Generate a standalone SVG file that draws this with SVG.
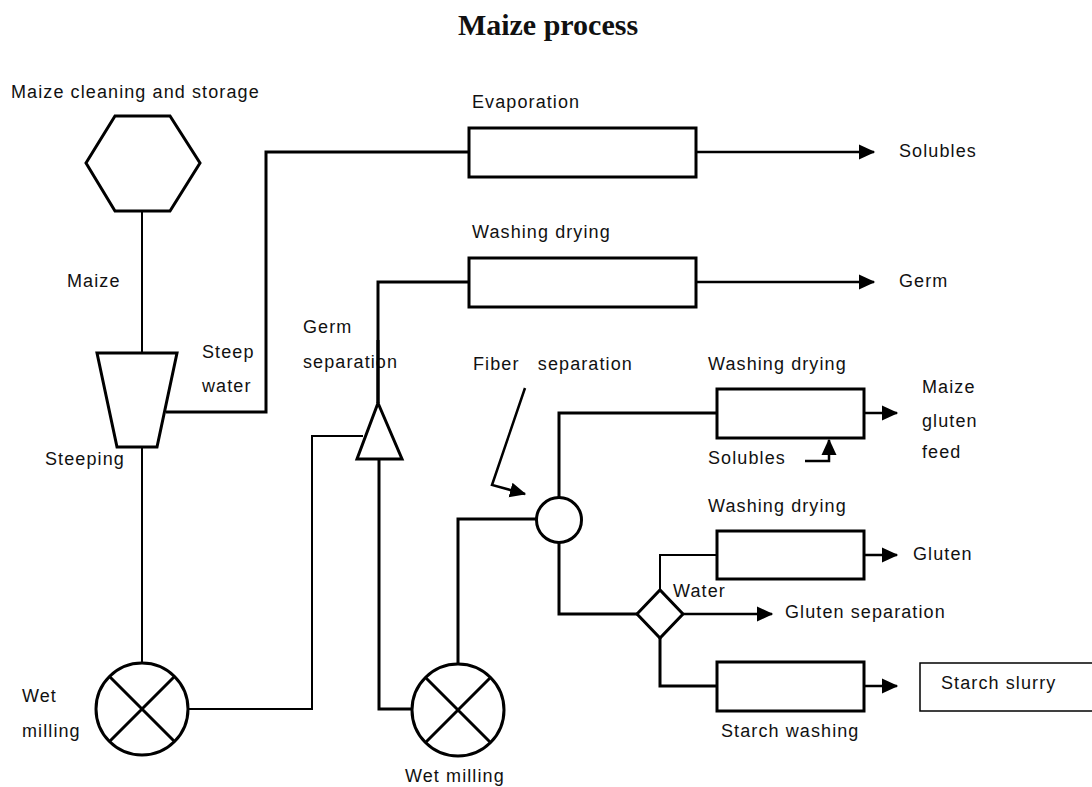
<svg xmlns="http://www.w3.org/2000/svg" width="1092" height="787" viewBox="0 0 1092 787">
<style>
text{font-family:"Liberation Sans",Arial,sans-serif;font-size:18px;letter-spacing:1.1px;fill:#111}
.title{font-family:"Liberation Serif","Times New Roman",serif;font-size:30px;font-weight:bold;letter-spacing:0}
.sh{fill:#fff;stroke:#000;stroke-width:3}
.thin{fill:none;stroke:#000;stroke-width:2}
.thick{fill:none;stroke:#000;stroke-width:3}
.arr{fill:none;stroke:#000;stroke-width:2.5;marker-end:url(#ah)}
</style>
<defs>
<marker id="ah" markerWidth="7" markerHeight="7" refX="6" refY="3.5" orient="auto" markerUnits="strokeWidth">
<path d="M0,0.5 L6.5,3.5 L0,6.5 Z" fill="#000"/>
</marker>
</defs>
<rect width="1092" height="787" fill="#fff"/>
<text class="title" x="548" y="35" text-anchor="middle">Maize process</text>

<g id="connectors">
<path class="thin" d="M142,211 V353"/>
<path class="thick" d="M166,412 H266 V152 H469"/>
<path class="arr" d="M696,152 H874"/>
<path class="thick" d="M378,403 V282 H469"/>
<path class="arr" d="M696,282 H874"/>
<path class="thin" d="M363,436 H312 V709 H188"/>
<path class="thin" d="M142,447 V663"/>
<path class="thick" d="M379,459 V709 H412"/>
<path class="thick" d="M458,664 V519 H537"/>
<path class="arr" d="M525,388 L492,485 L525,494"/>
<path class="thick" d="M559,498 V413 H717"/>
<path class="arr" d="M864,413 H897"/>
<path class="arr" d="M805,461 H829 V440"/>
<path class="thick" d="M559,543 V614 H637"/>
<path class="thin" d="M660,590 V555 H717"/>
<path class="arr" d="M864,555 H897"/>
<path class="arr" d="M683,614 H772"/>
<path class="thick" d="M660,638 V686 H717"/>
<path class="arr" d="M864,686 H897"/>
</g>

<g id="cleaning">
<polygon class="sh" points="115,116 170,116 200,163 170,211 115,211 86,163"/>
<text x="11" y="98">Maize cleaning and storage</text>
</g>
<g id="maize-label"><text x="67" y="287">Maize</text></g>
<g id="steeping">
<polygon class="sh" points="97,353 177,353 157,447 117,447"/>
<text x="45" y="465">Steeping</text>
</g>
<g id="steep-water-label">
<text x="202" y="358">Steep</text>
<text x="202" y="392">water</text>
</g>
<g id="evaporation">
<rect class="sh" x="469" y="128" width="227" height="49"/>
<text x="472" y="108">Evaporation</text>
</g>
<g id="solubles-out"><text x="899" y="157">Solubles</text></g>
<g id="germ-drying">
<rect class="sh" x="469" y="258" width="227" height="49"/>
<text x="472" y="238">Washing drying</text>
</g>
<g id="germ-out"><text x="899" y="287">Germ</text></g>
<g id="germ-separation">
<text x="303" y="333">Germ</text>
<text x="303" y="368">separation</text>
<path class="thick" d="M378,340 V403"/>
<polygon class="sh" points="378,403 402,459 357,459"/>
</g>
<g id="wet-milling-1">
<circle class="sh" cx="142" cy="709" r="46"/>
<path class="thick" d="M110,677 L174,741 M174,677 L110,741"/>
<text x="22" y="702">Wet</text>
<text x="22" y="737">milling</text>
</g>
<g id="wet-milling-2">
<circle class="sh" cx="458" cy="710" r="46"/>
<path class="thick" d="M426,678 L490,742 M490,678 L426,742"/>
<text x="405" y="782">Wet milling</text>
</g>
<g id="fiber-separation">
<circle class="sh" cx="559" cy="520" r="22.5"/>
<text x="473" y="370" style="white-space:pre">Fiber   separation</text>
</g>
<g id="feed-drying">
<rect class="sh" x="717" y="389" width="147" height="49"/>
<text x="708" y="370">Washing drying</text>
<text x="708" y="464">Solubles</text>
</g>
<g id="feed-out">
<text x="922" y="393">Maize</text>
<text x="922" y="427">gluten</text>
<text x="922" y="458">feed</text>
</g>
<g id="gluten-separation">
<polygon class="sh" points="637,614 660,590 683,614 660,638"/>
<text x="673" y="597">Water</text>
<text x="785" y="618">Gluten separation</text>
</g>
<g id="gluten-drying">
<rect class="sh" x="717" y="531" width="147" height="48"/>
<text x="708" y="512">Washing drying</text>
</g>
<g id="gluten-out"><text x="913" y="560">Gluten</text></g>
<g id="starch-washing">
<rect class="sh" x="717" y="662" width="147" height="49"/>
<text x="721" y="737">Starch washing</text>
</g>
<g id="starch-slurry">
<rect x="920" y="663" width="180" height="48" fill="#fff" stroke="#000" stroke-width="1.5"/>
<text x="941" y="689">Starch slurry</text>
</g>
</svg>
